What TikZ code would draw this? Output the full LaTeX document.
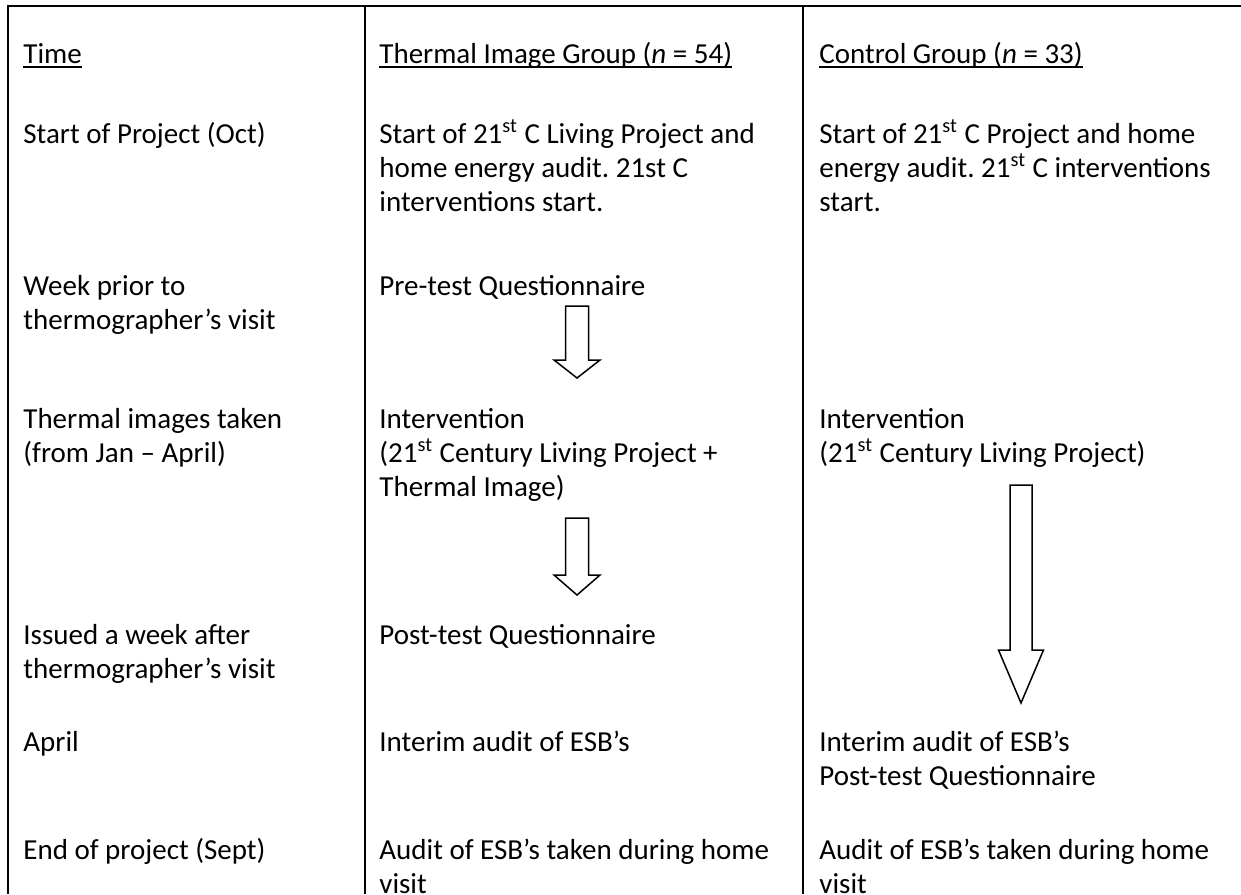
\documentclass[tikz,border=0pt]{standalone}
\usepackage{fontspec}
\setmainfont{Carlito}
\frenchspacing
\begin{document}
\begin{tikzpicture}[x=0.5pt, y=-0.5pt,
    every node/.style={font=\fontsize{14.5pt}{17pt}\selectfont, inner sep=0pt, anchor=base west, align=left},
    rule/.style={line width=1pt},
    headline/.style={line width=0.9pt},
    blockarrow/.style={draw, line width=0.75pt, fill=white, line join=miter}]
  \useasboundingbox (0,0) rectangle (1241,894);
  % Cadre du tableau
  \draw[rule] (1241,6) -- (8,6) -- (8,894);
  \draw[rule] (365,6) -- (365,894);
  \draw[rule] (803,6) -- (803,894);

  % En-tetes (soulignes)
  \node (time) at (23,63) {Time};
  \node (thermhead) at (379,63) {Thermal Image Group (\textit{n} = 54)};
  \node (ctrlhead) at (819,63) {Control Group (\textit{n} = 33)};
  \foreach \h in {time,thermhead,ctrlhead}
    \draw[headline] ([yshift=-2pt]\h.base west) -- ([yshift=-2pt]\h.base east);

  % Colonne Time (ancre = ligne de base de la derniere ligne)
  \node (t1) at (23,143) {Start of Project (Oct)};
  \node (t2) at (23,329) {Week prior to\\thermographer’s visit};
  \node (t3) at (23,462) {Thermal images taken\\(from Jan – April)};
  \node (t4) at (23,678) {Issued a week after\\thermographer’s visit};
  \node (t5) at (23,751) {April};
  \node (t6) at (23,859) {End of project (Sept)};

  % Groupe image thermique
  \node (th1) at (379,211) {Start of 21\textsuperscript{st} C Living Project and\\home energy audit. 21st C\\interventions start.};
  \node (th2) at (379,295) {Pre-test Questionnaire};
  \node (th3) at (379,496) {Intervention\\(21\textsuperscript{st} Century Living Project +\\Thermal Image)};
  \node (th4) at (379,644) {Post-test Questionnaire};
  \node (th5) at (379,751) {Interim audit of ESB’s};
  \node (th6) at (379,893) {Audit of ESB’s taken during home\\visit};

  % Groupe controle
  \node (c1) at (819,211) {Start of 21\textsuperscript{st} C Project and home\\energy audit. 21\textsuperscript{st} C interventions\\start.};
  \node (c3) at (819,462) {Intervention\\(21\textsuperscript{st} Century Living Project)};
  \node (c5) at (819,785) {Interim audit of ESB’s\\Post-test Questionnaire};
  \node (c6) at (819,893) {Audit of ESB’s taken during home\\visit};

  % Fleches
  \draw[blockarrow] (565.5,306) -- (588.5,306) -- (588.5,360) -- (600,360) -- (577,378)
    -- (554,360) -- (565.5,360) -- cycle;
  \draw[blockarrow] (565.5,518) -- (588.5,518) -- (588.5,575) -- (600,575) -- (577,595)
    -- (554,575) -- (565.5,575) -- cycle;
  \draw[blockarrow] (1010,485) -- (1032,485) -- (1032,650) -- (1043.5,650) -- (1021,703)
    -- (998.5,650) -- (1010,650) -- cycle;
\end{tikzpicture}
\end{document}
